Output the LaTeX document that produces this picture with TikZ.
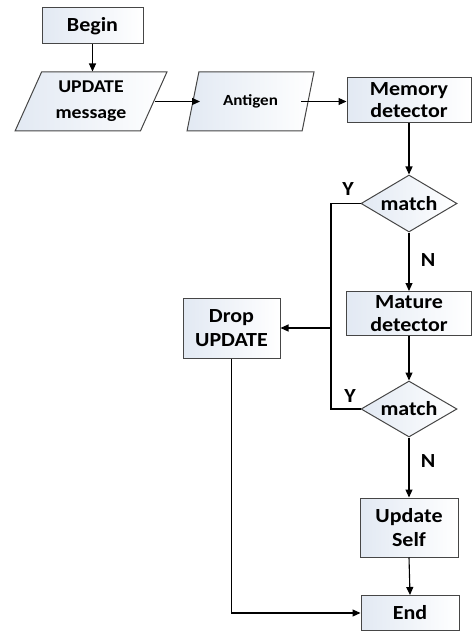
\documentclass[tikz,border=0pt]{standalone}
\usepackage{fontspec}
\setmainfont[FakeStretch=1.1]{Carlito}
\usetikzlibrary{shapes.geometric,arrows.meta}
\definecolor{boxfill}{RGB}{226,233,243}
\definecolor{boxline}{RGB}{70,70,70}
\tikzset{
  base/.style={draw=boxline, line width=1pt, left color=boxfill, right color=white,
    font=\fontsize{20}{24}\selectfont\bfseries, align=center, inner sep=0pt},
  procbox/.style={base, rectangle},
  iobox/.style={base, trapezium, trapezium stretches=true,
    trapezium left angle=65, trapezium right angle=115},
  decbox/.style={base, diamond, aspect=1.7},
  arr/.style={draw=black, line width=1.1pt, -{Triangle[length=8pt,width=7pt]}},
  ln/.style={draw=black, line width=1.1pt},
  lab/.style={font=\fontsize{20}{24}\selectfont\bfseries}
}
\begin{document}
\begin{tikzpicture}[x=1pt,y=-1pt]
\useasboundingbox (0,0) rectangle (473,631);
\node[procbox, minimum width=101pt, minimum height=36pt] (begin) at (92.5,26) {Begin};
\node[iobox, minimum width=152pt, minimum height=59pt, font=\fontsize{18}{26}\selectfont\bfseries] (upd) at (91,101.5) {UPDATE\\message};
\node[iobox, minimum width=127pt, minimum height=59pt, font=\fontsize{15.5}{18}\selectfont\bfseries] (ant) at (250.5,101.5) {Antigen};
\node[procbox, minimum width=124pt, minimum height=45pt, font=\fontsize{20}{22}\selectfont\bfseries] (mem) at (409,100.5) {Memory\\detector};
\node[decbox, minimum width=96pt, minimum height=57pt] (d1) at (409,203.5) {match};
\node[procbox, minimum width=125pt, minimum height=44pt, font=\fontsize{20}{23}\selectfont\bfseries] (mat) at (409,313.5) {Mature\\detector};
\node[procbox, minimum width=97pt, minimum height=60pt] (drop) at (231.5,328) {Drop\\UPDATE};
\node[decbox, minimum width=96pt, minimum height=56pt] (d2) at (409,409) {match};
\node[procbox, minimum width=98pt, minimum height=59pt] (us) at (409,527.5) {Update\\Self};
\node[procbox, minimum width=98pt, minimum height=35pt] (end) at (410,613) {End};
\coordinate (jx) at (331,328);
\draw[arr] (begin.south) -- (begin.south |- upd.north);
\draw[arr] (155,101.5) -- (200,101.5);
\draw[arr] (301,101.5) -- (mem.west |- 0,101.5);
\draw[arr] (mem.south) -- (d1.north);
\draw[arr] (d1.south) -- (mat.north);
\draw[arr] (mat.south) -- (d2.north);
\draw[arr] (d2.south) -- (us.north);
\draw[arr] (us.south) -- (end.north);
\draw[ln] (d1.west) -| (jx) |- (d2.west);
\draw[arr] (jx) -- (drop.east);
\draw[arr] (drop.south) |- (end.west);
\node[lab] (y1) at (348,189) {Y};
\node[lab] (y2) at (350,396) {Y};
\node[lab] (n1) at (428,260) {N};
\node[lab] (n2) at (428,461) {N};
\end{tikzpicture}
\end{document}
